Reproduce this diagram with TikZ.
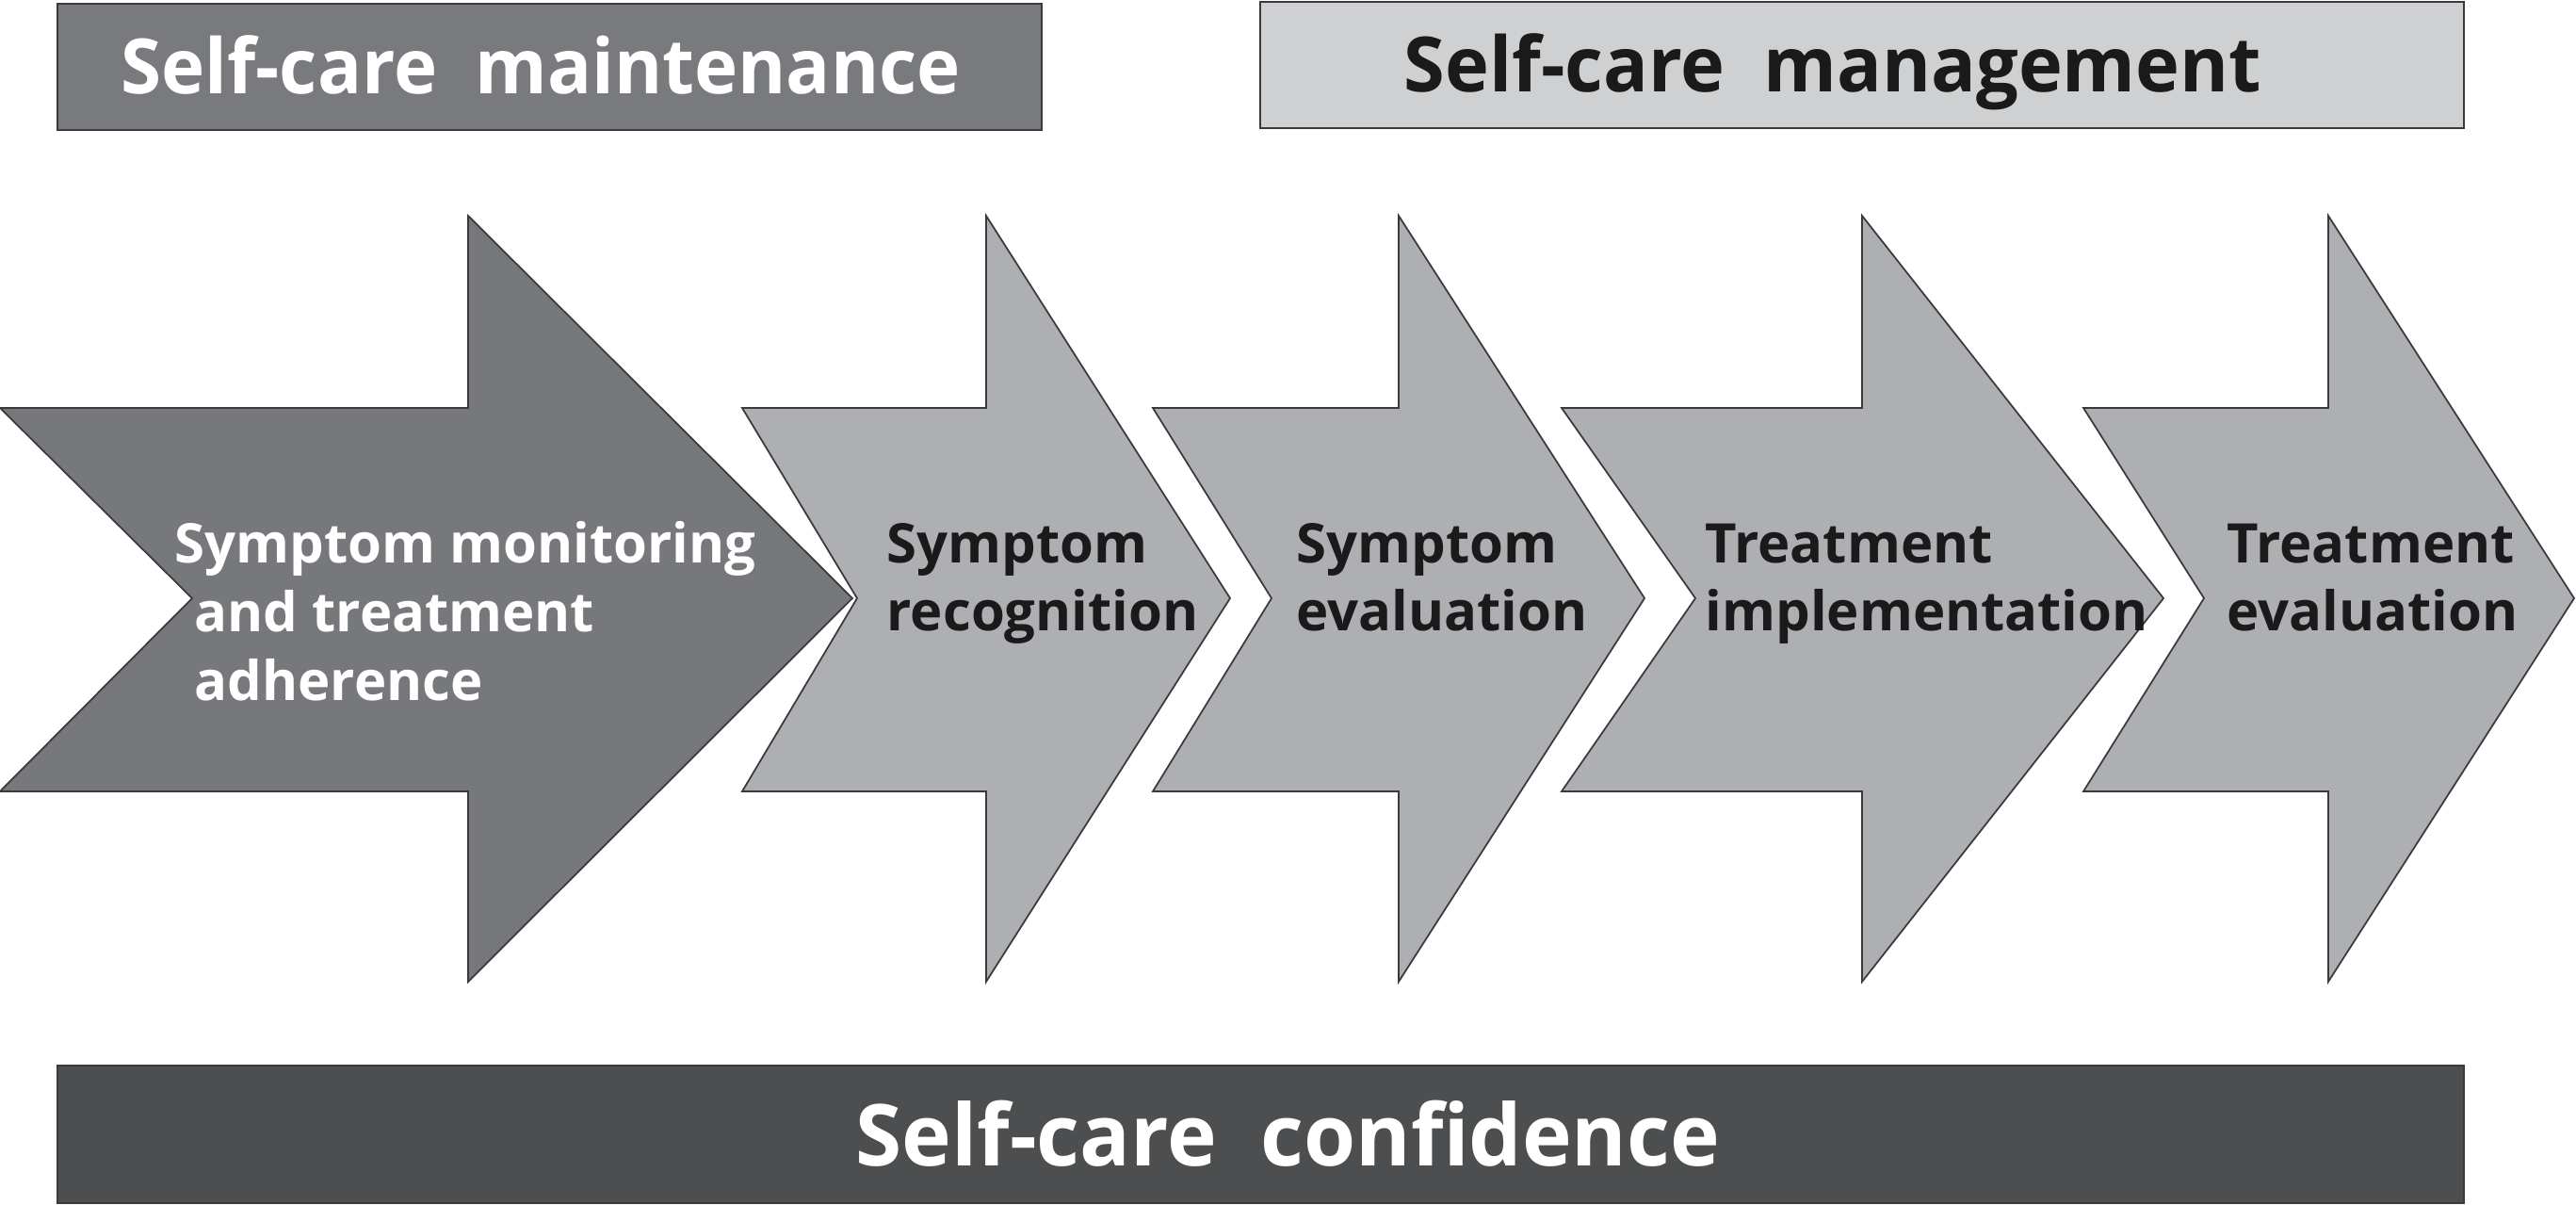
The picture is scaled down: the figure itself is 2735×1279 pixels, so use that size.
\documentclass[tikz,border=0pt]{standalone}
\usepackage{fontspec}
\setmainfont{Open Sans}
\definecolor{darkarrow}{HTML}{77787C}
\definecolor{lightarrow}{HTML}{AEAFB2}
\definecolor{maintbox}{HTML}{797A7E}
\definecolor{mgmtbox}{HTML}{CFD0D2}
\definecolor{confbox}{HTML}{4D4E50}
\definecolor{edgegray}{HTML}{3A3A3C}
\definecolor{inkblack}{HTML}{1A1A1A}
\begin{document}
\begin{tikzpicture}[x=0.01cm,y=-0.01cm,
  arrowshape/.style={draw=edgegray, line width=0.5pt, line join=miter},
  boxshape/.style={draw=edgegray, line width=0.7pt},
  bodytxt/.style={anchor=base west, inner sep=0pt, font=\bfseries\fontsize{16.5}{20.5}\selectfont},
  headtxt/.style={anchor=base west, inner sep=0pt, font=\bfseries\fontsize{23}{28}\selectfont},
  conftxt/.style={anchor=base west, inner sep=0pt, font=\bfseries\fontsize{25.8}{30}\selectfont}]
\useasboundingbox (0,0) rectangle (2735,1279);
% header boxes
\draw[boxshape, fill=maintbox] (61,4) rectangle (1106,138);
\draw[boxshape, fill=mgmtbox] (1338,2) rectangle (2616,136);
\draw[boxshape, fill=confbox] (61,1131) rectangle (2616,1277);
\node[headtxt, text=white] (maint) at (128,100) {\scalebox{0.965}[1]{Self-care\ \ maintenance}};
\node[headtxt, text=inkblack] (mgmt) at (1490,98) {\scalebox{0.98}[1]{Self-care\ \ management}};
\node[conftxt, text=white] (conf) at (908,1237) {\scalebox{0.983}[1]{Self-care\ \ confidence}};
% arrows
\draw[arrowshape, fill=darkarrow] (0,433) -- (497,433) -- (497,229) -- (905,635) -- (497,1042) -- (497,840) -- (0,840) -- (204,635) -- cycle;
\draw[arrowshape, fill=lightarrow] (788,433) -- (1047,433) -- (1047,229) -- (1306,635) -- (1047,1042) -- (1047,840) -- (788,840) -- (910,635) -- cycle;
\draw[arrowshape, fill=lightarrow] (1224,433) -- (1485,433) -- (1485,229) -- (1746,635) -- (1485,1042) -- (1485,840) -- (1224,840) -- (1350,635) -- cycle;
\draw[arrowshape, fill=lightarrow] (1658,433) -- (1977,433) -- (1977,229) -- (2297,635) -- (1977,1042) -- (1977,840) -- (1658,840) -- (1800,635) -- cycle;
\draw[arrowshape, fill=lightarrow] (2212,433) -- (2472,433) -- (2472,229) -- (2733,635) -- (2472,1042) -- (2472,840) -- (2212,840) -- (2340,635) -- cycle;
% arrow labels
\node[bodytxt, text=white] (a1l1) at (185,597) {Symptom monitoring};
\node[bodytxt, text=white] (a1l2) at (206,670) {and treatment};
\node[bodytxt, text=white] (a1l3) at (206,743) {adherence};
\node[bodytxt, text=inkblack] (a2l1) at (941,597) {Symptom};
\node[bodytxt, text=inkblack] (a2l2) at (941,669) {recognition};
\node[bodytxt, text=inkblack] (a3l1) at (1376,597) {Symptom};
\node[bodytxt, text=inkblack] (a3l2) at (1376,669) {evaluation};
\node[bodytxt, text=inkblack] (a4l1) at (1810,597) {Treatment};
\node[bodytxt, text=inkblack] (a4l2) at (1810,669) {implementation};
\node[bodytxt, text=inkblack] (a5l1) at (2364,597) {Treatment};
\node[bodytxt, text=inkblack] (a5l2) at (2364,669) {evaluation};
\end{tikzpicture}
\end{document}
